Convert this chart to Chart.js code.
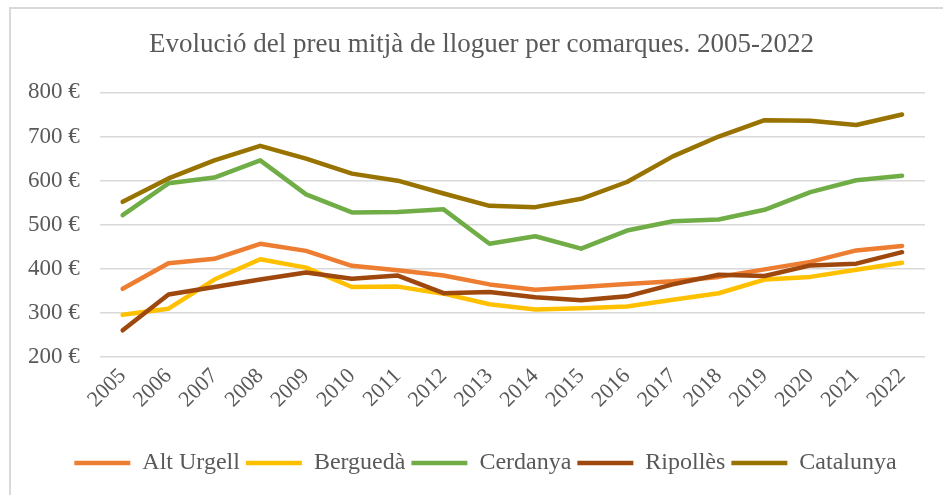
<!DOCTYPE html>
<html>
<head>
<meta charset="utf-8">
<script src="https://cdn.jsdelivr.net/npm/chart.js@4/dist/chart.umd.min.js"></script>
<style>
  body { margin: 0; background: #fff; }
  #wrap { position: relative; width: 943px; height: 495px; overflow: hidden; }
  #frame { position: absolute; left: 9px; top: 7px; width: 1000px; height: 600px;
           border-left: 2px solid #d9d9d9; border-top: 2px solid #d9d9d9; }
  canvas { position: absolute; left: 0; top: 0; }
</style>
</head>
<body>
<div id="wrap">
  <div id="frame"></div>
  <canvas id="myChart" width="943" height="495"></canvas>
</div>
<script>
// rental price per comarca, euros / month
const years = ["2005", "2006", "2007", "2008", "2009", "2010", "2011", "2012", "2013",
  "2014", "2015", "2016", "2017", "2018", "2019", "2020", "2021", "2022"];
const altUrgell = [355, 413, 423, 457, 441, 407, 397, 385, 365, 353, 359, 366, 372, 382, 399, 416, 442, 452];
const bergueda = [296, 310, 376, 422, 403, 359, 360, 344, 320, 308, 311, 315, 330, 345, 376, 382, 398, 414];
const cerdanya = [522, 594, 607, 646, 569, 528, 529, 535, 457, 474, 446, 487, 508, 512, 534, 574, 601, 611];
const ripolles = [261, 342, 359, 376, 392, 378, 385, 345, 348, 336, 329, 338, 365, 387, 384, 408, 412, 438];
const catalunya = [552, 605, 646, 679, 650, 616, 600, 571, 543, 540, 559, 597, 655, 700, 737, 736, 726, 750];

const seriesNames = ["Alt Urgell", "Berguedà", "Cerdanya", "Ripollès", "Catalunya"];
const seriesData = [altUrgell, bergueda, cerdanya, ripolles, catalunya];
const seriesColors = ["#ed7d31", "#ffc000", "#70ad47", "#9e480e", "#997300"];

const textColor = "#595959";
const serif = "'Liberation Serif', 'Times New Roman', serif";

function buildDatasets() {
  return seriesNames.map((name, i) => ({
    label: name,
    data: seriesData[i],
    borderColor: seriesColors[i],
    backgroundColor: seriesColors[i],
    borderWidth: 4.5,
    borderCapStyle: "round",
    borderJoinStyle: "round",
    pointRadius: 0,
    tension: 0,
    // excel draws later series on top
    order: seriesNames.length - 1 - i
  }));
}

// title and legend sit a bit right of centre in the original
const boxShift = {
  id: "boxShift",
  afterLayout(chart) {
    chart.legend.left += 19;
    chart.legend.right += 19;
    chart.titleBlock.left += 15;
    chart.titleBlock.right += 15;
  }
};

let ctx = document.getElementById("myChart");
new Chart(ctx, {
  type: "line",
  data: {
    labels: years,
    datasets: buildDatasets()
  },
  plugins: [boxShift],
  options: {
    responsive: false,
    animation: false,
    layout: {
      padding: { left: 8, right: 18, top: 12, bottom: 10 }
    },
    plugins: {
      title: {
        display: true,
        text: "Evolució del preu mitjà de lloguer per comarques. 2005-2022",
        color: textColor,
        font: { family: serif, size: 27, weight: "normal" },
        padding: { top: 17, bottom: 31 }
      },
      legend: {
        position: "bottom",
        labels: {
          color: textColor,
          font: { family: serif, size: 24 },
          usePointStyle: true,
          pointStyle: "line",
          pointStyleWidth: 56,
          boxHeight: 24,
          padding: 6,
          sort: (a, b) => a.datasetIndex - b.datasetIndex
        }
      },
      tooltip: { enabled: false }
    },
    scales: {
      x: {
        offset: true,
        grid: { display: false, drawTicks: false },
        border: { display: false },
        afterFit: axis => { axis.height += 26; },
        ticks: {
          color: textColor,
          font: { family: serif, size: 22 },
          maxRotation: 45,
          minRotation: 45,
          padding: 6,
          autoSkip: false
        }
      },
      y: {
        min: 200,
        max: 800,
        grid: { color: "#d9d9d9", lineWidth: 1.5, drawTicks: false },
        border: { display: false },
        ticks: {
          stepSize: 100,
          color: textColor,
          font: { family: serif, size: 23 },
          padding: 20,
          callback: v => v + " €"
        }
      }
    }
  }
});
</script>
</body>
</html>
